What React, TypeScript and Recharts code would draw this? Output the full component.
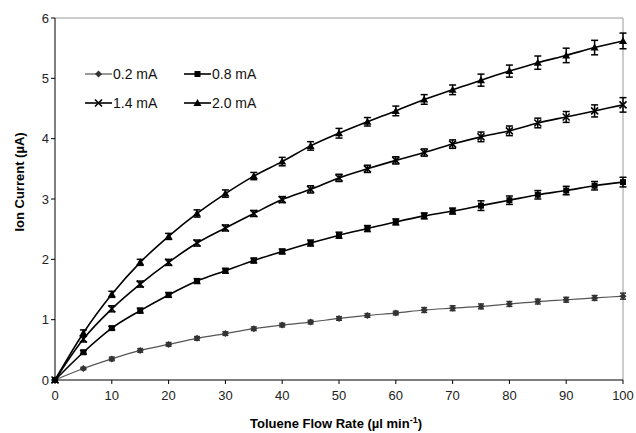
import React from "react";
import { LineChart, Line, XAxis, YAxis, ErrorBar, ReferenceLine } from "recharts";

const flowRates = [0, 5, 10, 15, 20, 25, 30, 35, 40, 45, 50, 55, 60, 65, 70, 75, 80, 85, 90, 95, 100];

const current02 = [0, 0.19, 0.35, 0.49, 0.59, 0.69, 0.77, 0.85, 0.91, 0.96, 1.02, 1.07, 1.11, 1.16, 1.19, 1.22, 1.26, 1.3, 1.33, 1.36, 1.39];
const current08 = [0, 0.46, 0.86, 1.15, 1.41, 1.64, 1.81, 1.98, 2.13, 2.27, 2.4, 2.51, 2.62, 2.72, 2.8, 2.89, 2.98, 3.07, 3.14, 3.22, 3.28];
const current14 = [0, 0.68, 1.18, 1.59, 1.95, 2.27, 2.52, 2.76, 2.99, 3.16, 3.35, 3.5, 3.64, 3.77, 3.91, 4.03, 4.13, 4.26, 4.36, 4.46, 4.56];
const current20 = [0, 0.78, 1.42, 1.95, 2.38, 2.76, 3.09, 3.38, 3.62, 3.88, 4.09, 4.28, 4.46, 4.65, 4.81, 4.97, 5.12, 5.26, 5.38, 5.51, 5.62];

const err02 = [0, 0.02, 0.03, 0.03, 0.03, 0.03, 0.03, 0.03, 0.03, 0.03, 0.03, 0.03, 0.03, 0.04, 0.04, 0.04, 0.04, 0.04, 0.04, 0.04, 0.05];
const err08 = [0, 0.03, 0.03, 0.04, 0.04, 0.04, 0.04, 0.04, 0.04, 0.05, 0.05, 0.05, 0.05, 0.05, 0.05, 0.08, 0.07, 0.07, 0.07, 0.07, 0.08];
const err14 = [0, 0.05, 0.05, 0.05, 0.05, 0.05, 0.05, 0.05, 0.05, 0.06, 0.06, 0.06, 0.06, 0.06, 0.07, 0.08, 0.08, 0.08, 0.09, 0.1, 0.12];
const err20 = [0, 0.05, 0.05, 0.05, 0.05, 0.06, 0.06, 0.06, 0.07, 0.07, 0.08, 0.07, 0.08, 0.08, 0.08, 0.1, 0.1, 0.11, 0.12, 0.12, 0.13];

const xTicks = [0, 10, 20, 30, 40, 50, 60, 70, 80, 90, 100];
const yTicks = [0, 1, 2, 3, 4, 5, 6];

const seriesLabels = ["0.2 mA", "0.8 mA", "1.4 mA", "2.0 mA"];

const data = flowRates.map((x, i) => ({
  x,
  s02: current02[i],
  s08: current08[i],
  s14: current14[i],
  s20: current20[i],
  e02: err02[i],
  e08: err08[i],
  e14: err14[i],
  e20: err20[i],
}));

const FONT = "Arial, 'Liberation Sans', sans-serif";

function Marker({ kind, cx, cy }: { kind: string; cx: number; cy: number }) {
  if (kind === "diamond") {
    return <path d={`M${cx},${cy - 3.5}L${cx + 3.5},${cy}L${cx},${cy + 3.5}L${cx - 3.5},${cy}Z`} fill="#333" />;
  }
  if (kind === "square") {
    return <rect x={cx - 3} y={cy - 3} width={6} height={6} fill="#000" />;
  }
  if (kind === "cross") {
    return <path d={`M${cx - 3.5},${cy - 3.5}L${cx + 3.5},${cy + 3.5}M${cx + 3.5},${cy - 3.5}L${cx - 3.5},${cy + 3.5}`} stroke="#000" strokeWidth={1.6} />;
  }
  return <path d={`M${cx},${cy - 4}L${cx + 4},${cy + 3}L${cx - 4},${cy + 3}Z`} fill="#000" />;
}

const dotFor = (kind: string) => (props: any) => {
  const { cx, cy, index } = props;
  if (cx == null || cy == null) return <g key={index} />;
  return <Marker key={`${kind}-${index}`} kind={kind} cx={cx} cy={cy} />;
};

const markerKinds = ["diamond", "square", "cross", "triangle"];

// legend drawn as an overlay so it doesn't eat into the plot area
function LegendBox() {
  return (
    <svg width={200} height={50} style={{ position: "absolute", left: 84, top: 62 }}>
      {seriesLabels.map((label, i) => {
        const col = i % 2;
        const row = Math.floor(i / 2);
        const x0 = col * 99;
        const y = 12 + row * 29;
        const color = i === 0 ? "#555" : "#000";
        return (
          <g key={label}>
            <line x1={x0 + 1} y1={y} x2={x0 + 28} y2={y} stroke={color} strokeWidth={i === 0 ? 1.2 : 1.6} />
            <Marker kind={markerKinds[i]} cx={x0 + 14.5} cy={y} />
            <text x={x0 + 29} y={y + 5} fontSize={14} fontFamily={FONT} fill="#111">
              {label}
            </text>
          </g>
        );
      })}
    </svg>
  );
}

function XTitle({ viewBox }: any) {
  const cx = viewBox.x + viewBox.width / 2 - 3;
  return (
    <text x={cx} y={428} textAnchor="middle" fontSize={13} fontWeight="bold" fontFamily={FONT} fill="#000">
      Toluene Flow Rate (µl min<tspan dy={-5} fontSize={9}>-1</tspan><tspan dy={5}>)</tspan>
    </text>
  );
}

function YTitle() {
  return (
    <text x={24} y={182} transform="rotate(-90 24 182)" textAnchor="middle" fontSize={13} fontWeight="bold" fontFamily={FONT} fill="#000">
      Ion Current (µA)
    </text>
  );
}

export default function App() {
  return (
    <div style={{ position: "relative", width: 636, height: 433, background: "#fff" }}>
      <style>{`body{margin:0}`}</style>
      <LineChart width={636} height={433} data={data} margin={{ top: 18, right: 13, bottom: 0, left: 0 }}>
        <XAxis
          dataKey="x"
          type="number"
          domain={[0, 100]}
          ticks={xTicks}
          height={53}
          axisLine={{ stroke: "#000", strokeWidth: 1 }}
          tickLine={{ stroke: "#000" }}
          tickSize={4}
          tick={{ fontSize: 13, fontFamily: FONT, fill: "#222", dy: 5 }}
          label={<XTitle />}
        />
        <YAxis
          type="number"
          domain={[0, 6]}
          ticks={yTicks}
          width={55}
          axisLine={{ stroke: "#000", strokeWidth: 1 }}
          tickLine={{ stroke: "#000" }}
          tickSize={4}
          tick={{ fontSize: 13, fontFamily: FONT, fill: "#222" }}
          label={<YTitle />}
        />
        <ReferenceLine y={6} stroke="#999" strokeWidth={1} />
        <ReferenceLine x={100} stroke="#999" strokeWidth={1} />
        <Line type="monotone" dataKey="s02" stroke="#555" strokeWidth={1.2} dot={dotFor("diamond")} isAnimationActive={false}>
          <ErrorBar dataKey="e02" width={3} stroke="#333" strokeWidth={1.5} direction="y" />
        </Line>
        <Line type="monotone" dataKey="s08" stroke="#000" strokeWidth={1.6} dot={dotFor("square")} isAnimationActive={false}>
          <ErrorBar dataKey="e08" width={3.5} stroke="#000" strokeWidth={1.5} direction="y" />
        </Line>
        <Line type="monotone" dataKey="s14" stroke="#000" strokeWidth={1.6} dot={dotFor("cross")} isAnimationActive={false}>
          <ErrorBar dataKey="e14" width={3.5} stroke="#000" strokeWidth={1.5} direction="y" />
        </Line>
        <Line type="monotone" dataKey="s20" stroke="#000" strokeWidth={1.6} dot={dotFor("triangle")} isAnimationActive={false}>
          <ErrorBar dataKey="e20" width={3.5} stroke="#000" strokeWidth={1.5} direction="y" />
        </Line>
      </LineChart>
      <LegendBox />
    </div>
  );
}
